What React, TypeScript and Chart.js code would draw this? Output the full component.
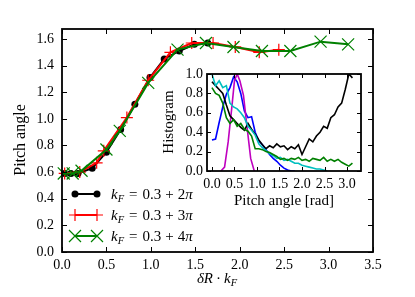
import React, { useEffect, useRef } from 'react';
import { Chart, registerables } from 'chart.js';
Chart.register(...registerables);

const FONT = '"Liberation Serif", "Times New Roman", serif';

// ---- main chart data ----
const blackX = [0.03, 0.1, 0.18, 0.34, 0.5, 0.66, 0.82, 0.99, 1.15, 1.32, 1.49, 1.64];
const blackY = [0.59, 0.59, 0.59, 0.63, 0.75, 0.92, 1.11, 1.31, 1.45, 1.51, 1.56, 1.57];
const redX = [0.03, 0.2, 0.39, 0.47, 0.73, 0.97, 1.22, 1.46, 1.7, 1.95, 2.22, 2.44];
const redY = [0.59, 0.6, 0.67, 0.76, 1.01, 1.29, 1.5, 1.57, 1.57, 1.54, 1.5, 1.52];
const greenX = [0.02, 0.12, 0.22, 0.5, 0.65, 0.97, 1.3, 1.62, 1.93, 2.25, 2.57, 2.91, 3.22];
const greenY = [0.59, 0.59, 0.61, 0.77, 0.91, 1.27, 1.52, 1.57, 1.54, 1.51, 1.51, 1.58, 1.56];
const legendConst = ['0.3', '0.3', '0.3'];
const legendMult = ['2', '3', '4'];
const mainXTicks = { min: 0, max: 3.5, step: 0.5 };
const mainYTicks = { min: 0, max: 1.675, step: 0.2 };

// ---- inset histogram data ----
const histX = [0.00, 0.08, 0.16, 0.24, 0.32, 0.40, 0.48, 0.56, 0.64, 0.72, 0.80, 0.88, 0.96, 1.04, 1.12, 1.20, 1.28, 1.36, 1.44, 1.52, 1.60, 1.68, 1.76, 1.84, 1.92, 2.00, 2.08, 2.16, 2.24, 2.32, 2.40, 2.48, 2.56, 2.64, 2.72, 2.80, 2.88, 2.96, 3.04, 3.12];
const histBlack = [0.92, 0.88, 0.84, 0.80, 0.68, 0.57, 0.53, 0.49, 0.45, 0.42, 0.49, 0.43, 0.38, 0.32, 0.27, 0.23, 0.26, 0.24, 0.28, 0.25, 0.26, 0.22, 0.25, 0.23, 0.27, 0.17, 0.25, 0.33, 0.30, 0.36, 0.40, 0.46, 0.44, 0.55, 0.58, 0.66, 0.70, 0.84, 1.0, 0.96];
const histBlue = [0.32, 0.33, 0.50, 0.66, 0.79, 0.86, 0.97, 0.92, 0.80, 0.62, 0.55, 0.56, 0.40, 0.31, 0.27, 0.22, 0.17, 0.13, 0.10, 0.06, 0.03, 0.01, 0.0, 0.0];
const histCyan = [1.0, 0.88, 0.93, 0.86, 0.88, 0.70, 0.66, 0.64, 0.60, 0.55, 0.46, 0.42, 0.37, 0.28, 0.24, 0.21, 0.18, 0.16, 0.13, 0.14, 0.11, 0.12, 0.10, 0.08, 0.08, 0.06, 0.05, 0.04, 0.03, 0.02, 0.02, 0.01, 0.0];
const histGreen = [0.86, 0.80, 0.78, 0.70, 0.55, 0.49, 0.53, 0.46, 0.49, 0.43, 0.41, 0.36, 0.23, 0.23, 0.22, 0.20, 0.19, 0.17, 0.15, 0.12, 0.13, 0.11, 0.13, 0.12, 0.14, 0.11, 0.12, 0.10, 0.13, 0.12, 0.11, 0.14, 0.10, 0.12, 0.10, 0.12, 0.09, 0.07, 0.05, 0.08];
const magentaX = [0.20, 0.28, 0.36, 0.44, 0.50, 0.56, 0.62, 0.70, 0.78, 0.86, 0.94];
const magentaY = [0.0, 0.04, 0.30, 0.65, 0.93, 1.0, 0.93, 0.78, 0.45, 0.13, 0.0];
const insetXTicks = { min: -0.11, max: 3.31, step: 0.5 };
const insetYTicks = { min: 0, max: 1.0, step: 0.2 };

const pts = (xs: number[], ys: number[]) => ys.map((y, i) => ({ x: xs[i], y }));

type Seg = { t: string; it?: boolean; sub?: boolean; gap?: number };
function drawRich(ctx: CanvasRenderingContext2D, segs: Seg[], x: number, y: number, size: number, align: 'left' | 'center') {
  const fontFor = (s: Seg) => `${s.it ? 'italic ' : ''}${s.sub ? size * 0.7 : size}px ${FONT}`;
  let total = 0;
  const widths = segs.map((s) => {
    ctx.font = fontFor(s);
    const w = ctx.measureText(s.t).width + (s.gap || 0);
    total += w;
    return w;
  });
  let cx = align === 'center' ? x - total / 2 : x;
  ctx.textAlign = 'left';
  ctx.textBaseline = 'alphabetic';
  ctx.fillStyle = '#000';
  segs.forEach((s, i) => {
    ctx.font = fontFor(s);
    ctx.fillText(s.t, cx, s.sub ? y + size * 0.22 : y);
    cx += widths[i];
  });
}

function drawFrameTicks(chart: any, len: number, frameW: number) {
  const { ctx, chartArea: a, scales } = chart;
  ctx.save();
  ctx.strokeStyle = '#000';
  ctx.lineWidth = 1;
  ctx.beginPath();
  scales.x.ticks.forEach((t: any) => {
    const p = Math.round(scales.x.getPixelForValue(t.value)) + 0.5;
    ctx.moveTo(p, a.bottom); ctx.lineTo(p, a.bottom - len);
    ctx.moveTo(p, a.top); ctx.lineTo(p, a.top + len);
  });
  scales.y.ticks.forEach((t: any) => {
    const p = Math.round(scales.y.getPixelForValue(t.value)) + 0.5;
    ctx.moveTo(a.left, p); ctx.lineTo(a.left + len, p);
    ctx.moveTo(a.right, p); ctx.lineTo(a.right - len, p);
  });
  ctx.stroke();
  ctx.lineWidth = frameW;
  ctx.strokeRect(a.left, a.top, a.right - a.left, a.bottom - a.top);
  ctx.restore();
}

function marker(ctx: CanvasRenderingContext2D, kind: string, x: number, y: number, color: string) {
  ctx.save();
  ctx.strokeStyle = color;
  ctx.fillStyle = color;
  ctx.lineWidth = 1.2;
  ctx.beginPath();
  if (kind === 'circle') {
    ctx.arc(x, y, 3.5, 0, Math.PI * 2);
    ctx.fill();
  } else if (kind === 'cross') {
    ctx.moveTo(x - 6, y); ctx.lineTo(x + 6, y);
    ctx.moveTo(x, y - 6); ctx.lineTo(x, y + 6);
    ctx.stroke();
  } else {
    ctx.moveTo(x - 6, y - 6); ctx.lineTo(x + 6, y + 6);
    ctx.moveTo(x - 6, y + 6); ctx.lineTo(x + 6, y - 6);
    ctx.stroke();
  }
  ctx.restore();
}

const tickFont = { family: FONT, size: 14 };

export default function App() {
  const mainRef = useRef<HTMLCanvasElement>(null);
  const insetRef = useRef<HTMLCanvasElement>(null);

  useEffect(() => {
    const mainPlugin = {
      id: 'mainDecor',
      afterDraw(chart: any) {
        const ctx = chart.ctx as CanvasRenderingContext2D;
        drawFrameTicks(chart, 5, 1.8);
        // legend
        const rows = [194, 215, 236];
        const colors = ['#000000', '#ff0000', '#008000'];
        const kinds = ['circle', 'cross', 'x'];
        rows.forEach((ry, i) => {
          ctx.save();
          ctx.strokeStyle = colors[i];
          ctx.lineWidth = 2;
          ctx.beginPath();
          ctx.moveTo(75, ry); ctx.lineTo(97, ry);
          ctx.stroke();
          ctx.restore();
          marker(ctx, kinds[i], 75, ry, colors[i]);
          marker(ctx, kinds[i], 97, ry, colors[i]);
          drawRich(ctx, [
            { t: 'k', it: true }, { t: 'F', it: true, sub: true, gap: 5 },
            { t: '=', gap: 5 }, { t: legendConst[i], gap: 4 }, { t: '+', gap: 4 },
            { t: legendMult[i] }, { t: 'π', it: true },
          ], 111, ry + 5, 15, 'left');
        });
        // axis titles
        drawRich(ctx, [
          { t: 'δR', it: true, gap: 3 }, { t: '·', gap: 3 }, { t: 'k', it: true }, { t: 'F', it: true, sub: true },
        ], 217, 283, 15, 'center');
        ctx.save();
        ctx.translate(25, 140);
        ctx.rotate(-Math.PI / 2);
        drawRich(ctx, [{ t: 'Pitch angle' }], 0, 0, 16, 'center');
        ctx.restore();
      },
    };

    const main = new Chart(mainRef.current as HTMLCanvasElement, {
      type: 'line',
      data: {
        datasets: [
          {
            data: pts(blackX, blackY), borderColor: '#000000', backgroundColor: '#000000',
            borderWidth: 2, pointStyle: 'circle', pointRadius: 3.5, pointBorderWidth: 0, order: 3, clip: false as any,
          },
          {
            data: pts(redX, redY), borderColor: '#ff0000', backgroundColor: '#ff0000',
            borderWidth: 2, pointStyle: 'cross', pointRadius: 6, pointBorderWidth: 1.2, order: 2, clip: false as any,
          },
          {
            data: pts(greenX, greenY), borderColor: '#008000', backgroundColor: '#008000',
            borderWidth: 2, pointStyle: 'crossRot', pointRadius: 8.5, pointBorderWidth: 1.2, order: 1, clip: false as any,
          },
        ],
      },
      options: {
        animation: false,
        responsive: false,
        devicePixelRatio: 1,
        events: [],
        layout: { padding: { top: 29, right: 42, left: 0, bottom: 0 } },
        elements: { line: { tension: 0 } },
        plugins: { legend: { display: false }, tooltip: { enabled: false } },
        scales: {
          x: {
            type: 'linear', min: mainXTicks.min, max: mainXTicks.max,
            grid: { display: false, drawTicks: false },
            border: { display: false },
            ticks: { stepSize: mainXTicks.step, includeBounds: false, color: '#000', font: tickFont, padding: 5, maxRotation: 0, autoSkip: false,
              callback: (v: any) => Number(v).toFixed(1) },
            afterFit: (s: any) => { s.height = 45; },
          },
          y: {
            type: 'linear', min: mainYTicks.min, max: mainYTicks.max,
            grid: { display: false, drawTicks: false },
            border: { display: false },
            ticks: { stepSize: mainYTicks.step, includeBounds: false, color: '#000', font: tickFont, padding: 8, autoSkip: false,
              callback: (v: any) => Number(v).toFixed(1) },
            afterFit: (s: any) => { s.width = 62; },
          },
        },
      } as any,
      plugins: [mainPlugin],
    });

    const insetPlugin = {
      id: 'insetDecor',
      beforeDatasetsDraw(chart: any) {
        const { ctx, chartArea: a } = chart;
        ctx.save();
        ctx.fillStyle = '#ffffff';
        ctx.fillRect(a.left, a.top, a.right - a.left, a.bottom - a.top);
        ctx.restore();
      },
      afterDraw(chart: any) {
        const ctx = chart.ctx as CanvasRenderingContext2D;
        drawFrameTicks(chart, 4, 1.8);
        drawRich(ctx, [{ t: 'Pitch angle [rad]' }], 134, 145, 15, 'center');
        ctx.save();
        ctx.translate(23, 62);
        ctx.rotate(-Math.PI / 2);
        drawRich(ctx, [{ t: 'Histogram' }], 0, 0, 15, 'center');
        ctx.restore();
      },
    };

    const line = (xs: number[], ys: number[], color: string, order: number) => ({
      data: pts(xs, ys), borderColor: color, backgroundColor: color, borderWidth: 1.6,
      pointRadius: 0, order,
    });

    const inset = new Chart(insetRef.current as HTMLCanvasElement, {
      type: 'line',
      data: {
        datasets: [
          line(histX, histGreen, '#008000', 1),
          line(histX, histCyan, '#00bfbf', 2),
          line(histX, histBlack, '#000000', 3),
          line(magentaX, magentaY, '#bf00bf', 4),
          line(histX, histBlue, '#0000ff', 5),
        ],
      },
      options: {
        animation: false,
        responsive: false,
        devicePixelRatio: 1,
        events: [],
        layout: { padding: { top: 14, right: 9, left: 0, bottom: 0 } },
        elements: { line: { tension: 0 } },
        plugins: { legend: { display: false }, tooltip: { enabled: false } },
        scales: {
          x: {
            type: 'linear', min: insetXTicks.min, max: insetXTicks.max,
            grid: { display: false, drawTicks: false },
            border: { display: false },
            ticks: { stepSize: insetXTicks.step, includeBounds: false, color: '#000', font: tickFont, padding: 5, maxRotation: 0, autoSkip: false,
              callback: (v: any) => Number(v).toFixed(1) },
            afterFit: (s: any) => { s.height = 39; },
          },
          y: {
            type: 'linear', min: insetYTicks.min, max: insetYTicks.max,
            grid: { display: false, drawTicks: false },
            border: { display: false },
            ticks: { stepSize: insetYTicks.step, includeBounds: false, color: '#000', font: tickFont, padding: 4, autoSkip: false,
              callback: (v: any) => Number(v).toFixed(1) },
            afterFit: (s: any) => { s.width = 57; },
          },
        },
      } as any,
      plugins: [insetPlugin],
    });

    return () => {
      main.destroy();
      inset.destroy();
    };
  }, []);

  return (
    <div style={{ position: 'absolute', left: 0, top: 0, width: 415, height: 297, background: '#fff' }}>
      <canvas ref={mainRef} width={415} height={297} style={{ position: 'absolute', left: 0, top: 0 }} />
      <canvas ref={insetRef} width={220} height={150} style={{ position: 'absolute', left: 150, top: 60 }} />
    </div>
  );
}
